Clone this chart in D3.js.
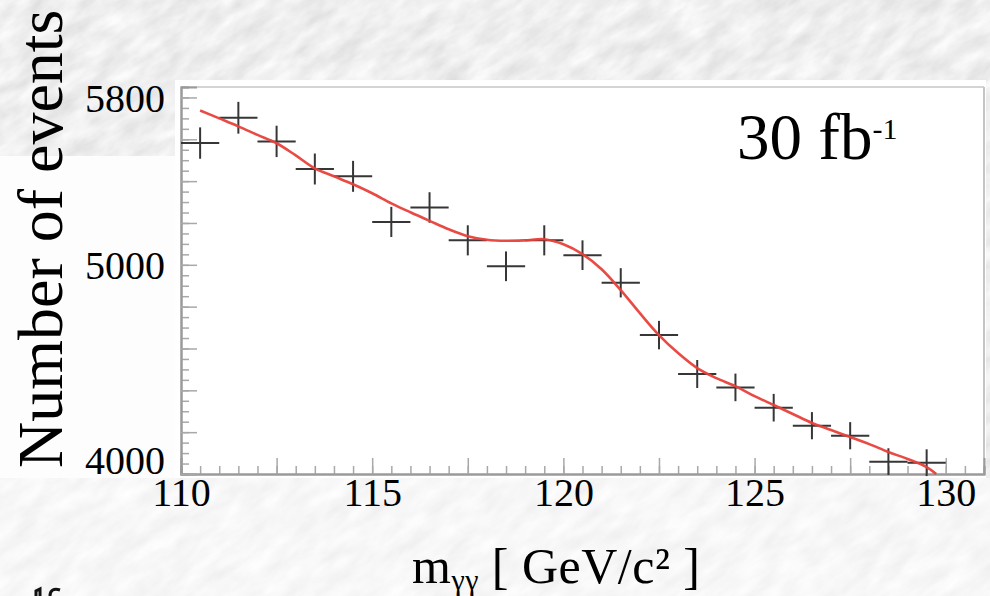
<!DOCTYPE html>
<html>
<head>
<meta charset="utf-8">
<script src="https://cdn.jsdelivr.net/npm/d3@7"></script>
<style>
  body { margin: 0; background: #ddd; }
  svg { display: block; }
  text { font-family: "Liberation Serif", "DejaVu Serif", serif; fill: #000; }
</style>
</head>
<body>
<div id="chart"></div>
<script>
const WIDTH = 990, HEIGHT = 596;

// bin centres of the diphoton mass histogram (GeV/c2)
const BIN_CENTERS = [110.5, 111.5, 112.5, 113.5, 114.5, 115.5, 116.5, 117.5, 118.5, 119.5,
                     120.5, 121.5, 122.5, 123.5, 124.5, 125.5, 126.5, 127.5, 128.5, 129.5];
const EVENTS = [5582, 5703, 5590, 5458, 5423, 5205, 5274, 5117, 4993, 5117,
                5046, 4914, 4664, 4478, 4414, 4317, 4231, 4183, 4059, 4054];
const ERRORS = [75, 76, 75, 74, 74, 72, 73, 72, 71, 72,
                71, 70, 68, 67, 66, 66, 65, 65, 64, 64];
// fitted curve (background + signal bump)
const FIT_X = [110.5, 111, 111.5, 112, 112.5, 113, 113.5, 114, 114.5, 115, 115.5, 116, 116.5, 117,
               117.5, 118, 118.5, 119, 119.5, 120, 120.5, 121, 121.5, 122, 122.5, 123, 123.5, 124,
               124.5, 125, 125.5, 126, 126.5, 127, 127.5, 128, 128.5, 129, 129.5, 129.75];
const FIT_Y = [5738, 5700, 5662, 5621, 5581, 5523, 5461, 5423, 5385, 5342, 5294, 5251, 5210, 5170,
               5137, 5120, 5115, 5117, 5122, 5098, 5051, 4979, 4879, 4769, 4664, 4578, 4506, 4458,
               4420, 4372, 4330, 4287, 4244, 4210, 4177, 4143, 4105, 4072, 4033, 4000];
const X_LABELS = [110, 115, 120, 125, 130];
const Y_LABELS = [4000, 5000, 5800];

const X_DOMAIN = [110, 131], Y_DOMAIN = [4000, 5850];

const svg = d3.select("#chart")
    .append("svg")
    .attr("width", WIDTH)
    .attr("height", HEIGHT)

// marble background
const defs = svg.append("defs");
const marble = defs.append("filter").attr("id", "marble")
    .attr("x", 0).attr("y", 0).attr("width", "100%").attr("height", "100%");
marble.append("feTurbulence")
    .attr("type", "fractalNoise")
    .attr("baseFrequency", "0.03 0.07")
    .attr("numOctaves", 5)
    .attr("seed", 11);
marble.append("feColorMatrix")
    .attr("type", "matrix")
    .attr("values", "0.32 0 0 0 0.7  0.32 0 0 0 0.7  0.32 0 0 0 0.7  0 0 0 0 1");

svg.append("g")
    .attr("transform", "rotate(-35 495 298)")
    .append("rect")
    .attr("x", -400).attr("y", -400)
    .attr("width", WIDTH + 800).attr("height", HEIGHT + 800)
    .attr("filter", "url(#marble)");

svg.append("rect")   // lighter lower part
    .attr("x", 0).attr("y", 478).attr("width", WIDTH).attr("height", HEIGHT - 478)
    .attr("fill", "#fff").attr("opacity", 0.5);
svg.append("rect")
    .attr("x", 0).attr("y", 156).attr("width", 176).attr("height", 322)
    .attr("fill", "#fdfdfd");
svg.append("rect")
    .attr("x", 175).attr("y", 80).attr("width", 811).attr("height", 398)
    .attr("fill", "#fff");

const x = d3.scaleLinear().domain(X_DOMAIN).range([181, 984]);
const y = d3.scaleLinear().domain(Y_DOMAIN).range([474, 87]);

// frame
svg.append("line").attr("x1", 181).attr("x2", 984).attr("y1", 87).attr("y2", 87)
    .attr("stroke", "#d4d4d4").attr("stroke-width", 2);
svg.append("line").attr("x1", 984).attr("x2", 984).attr("y1", 87).attr("y2", 474)
    .attr("stroke", "#c4c4c4").attr("stroke-width", 2);

const range = (a, b, s) => d3.range(a, b + s / 2, s);

function styleAxis(g) {
    g.select(".domain").attr("stroke", "#9a9a9a").attr("stroke-width", 2);
    g.selectAll(".tick line").attr("stroke", "#a8a8a8").attr("stroke-width", 1.5);
    g.selectAll("text").style("font-family", '"Liberation Serif", serif').attr("fill", "#000");
}

// x axis: minor, major, labels
svg.append("g").attr("transform", "translate(0,474)")
    .call(d3.axisBottom(x).tickValues(range(110, 131, 0.5)).tickSize(-8).tickFormat(""))
    .call(styleAxis);
const xAxis = svg.append("g").attr("transform", "translate(0,474)")
    .call(d3.axisBottom(x).tickValues(range(110, 130, 2.5)).tickSize(-16).tickPadding(4)
        .tickFormat(d => X_LABELS.includes(d) ? d : ""))
    .call(styleAxis);
xAxis.selectAll("text").attr("font-size", 40);

// y axis
svg.append("g").attr("transform", "translate(181,0)")
    .call(d3.axisLeft(y).tickValues(range(4000, 5850, 50)).tickSize(-8).tickFormat(""))
    .call(styleAxis);
const yAxis = svg.append("g").attr("transform", "translate(181,0)")
    .call(d3.axisLeft(y).tickValues(range(4000, 5800, 200)).tickSize(-16).tickPadding(16)
        .tickFormat(d => Y_LABELS.includes(d) ? d : ""))
    .call(styleAxis);
yAxis.selectAll("text").attr("font-size", 40)
    .attr("dy", d => d === 4000 ? "-0.02em" : "0.34em");

// data crosses
const pts = svg.append("g").selectAll("g")
    .data(BIN_CENTERS.map((c, i) => ({ c: c, v: EVENTS[i], e: ERRORS[i] })))
    .enter().append("g")
    .attr("stroke", "#363636").attr("stroke-width", 2);
pts.append("line")
    .attr("x1", d => x(d.c - 0.5)).attr("x2", d => x(d.c + 0.5))
    .attr("y1", d => y(d.v)).attr("y2", d => y(d.v));
pts.append("line")
    .attr("x1", d => x(d.c)).attr("x2", d => x(d.c))
    .attr("y1", d => y(d.v - d.e)).attr("y2", d => y(d.v + d.e));

// fit
const line = d3.line().x((d, i) => x(FIT_X[i])).y(d => y(d)).curve(d3.curveCatmullRom);
svg.append("path")
    .attr("d", line(FIT_Y))
    .attr("fill", "none")
    .attr("stroke", "#e8403a")
    .attr("stroke-width", 2.6)
    .attr("opacity", 0.95);

// texts
svg.append("text")
    .attr("transform", "translate(62,468) rotate(-90)")
    .attr("font-size", 64)
    .text("Number of events");

const lumi = svg.append("text").attr("x", 737).attr("y", 159).attr("font-size", 65);
lumi.append("tspan").text("30 fb");
lumi.append("tspan").attr("font-size", 30).attr("dy", -20).text("-1");

const title = svg.append("text").attr("x", 412).attr("y", 583)
    .attr("font-size", 50).attr("textLength", 288).attr("lengthAdjust", "spacing");
title.append("tspan").text("m");
title.append("tspan").attr("font-size", 30).attr("dy", 7).text("γγ");
title.append("tspan").attr("dy", -7).text(" [ GeV/c² ]");

// tops of the next line of slide text, cut by the frame edge
svg.append("path")
    .attr("d", "M36,596 L36,591 L40,589 L40,596 M50,596 C50,590 54,588 60,590")
    .attr("fill", "none").attr("stroke", "#111").attr("stroke-width", 3);
</script>
</body>
</html>
